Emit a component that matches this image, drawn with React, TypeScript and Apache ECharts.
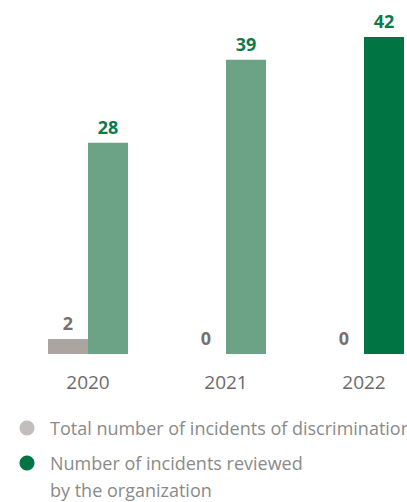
import React, { useEffect, useRef } from "react";
import * as echarts from "echarts";

const categories = ["2020", "2021", "2022"];
const totalIncidents = [2, 0, 0];
const reviewedIncidents = [28, 39, 42];
const seriesNames = [
  "Total number of incidents of discrimination",
  "Number of incidents reviewed\nby the organization",
];
const seriesColors = ["#c2bebc", "#007543"];

export default function App() {
  const ref = useRef<HTMLDivElement>(null);
  useEffect(() => {
    if (!ref.current) return;
    const chart = echarts.init(ref.current, undefined, { renderer: "svg" });
    const font = "'Open Sans', sans-serif";
    const legendTops = [428, 463];
    chart.setOption({
      animation: false,
      textStyle: { fontFamily: font },
      grid: { left: 19, top: 37, right: 0, bottom: 148, containLabel: false },
      xAxis: {
        type: "category",
        data: categories,
        axisLine: { show: false },
        axisTick: { show: false },
        axisLabel: { color: "#6b6b6b", fontSize: 19, margin: 18, fontFamily: font },
      },
      yAxis: { type: "value", min: 0, max: 42, show: false, splitLine: { show: false } },
      graphic: seriesNames.flatMap((name, i) => [
        {
          type: "circle",
          shape: { cx: 27, cy: legendTops[i], r: 7.5 },
          style: { fill: seriesColors[i] },
        },
        {
          type: "text",
          x: 50,
          y: legendTops[i] - 13.5,
          style: {
            text: name,
            fill: "#8a8a8a",
            fontSize: 18,
            lineHeight: 27,
            fontFamily: font,
            verticalAlign: "top",
          },
        },
      ]),
      series: [
        {
          name: seriesNames[0],
          type: "bar",
          barWidth: 40,
          barGap: "0%",
          itemStyle: { color: "#aaa5a1" },
          label: {
            show: true,
            position: "top",
            color: "#7a706b",
            fontSize: 18,
            fontWeight: "bold",
            distance: 7,
            fontFamily: font,
          },
          data: totalIncidents,
        },
        {
          name: seriesNames[1],
          type: "bar",
          barWidth: 40,
          barGap: "0%",
          itemStyle: { color: "#007543" },
          label: {
            show: true,
            position: "top",
            color: "#0e7a4b",
            fontSize: 18,
            fontWeight: "bold",
            distance: 7,
            fontFamily: font,
          },
          data: reviewedIncidents.map((v, i) =>
            i < 2 ? { value: v, itemStyle: { color: "#6ca386" } } : v
          ),
        },
      ],
    });
    return () => chart.dispose();
  }, []);
  return (
    <div style={{ width: 407, height: 502, position: "absolute", left: 0, top: 0, overflow: "hidden" }}>
      <div ref={ref} style={{ width: 433, height: 502 }} />
    </div>
  );
}
